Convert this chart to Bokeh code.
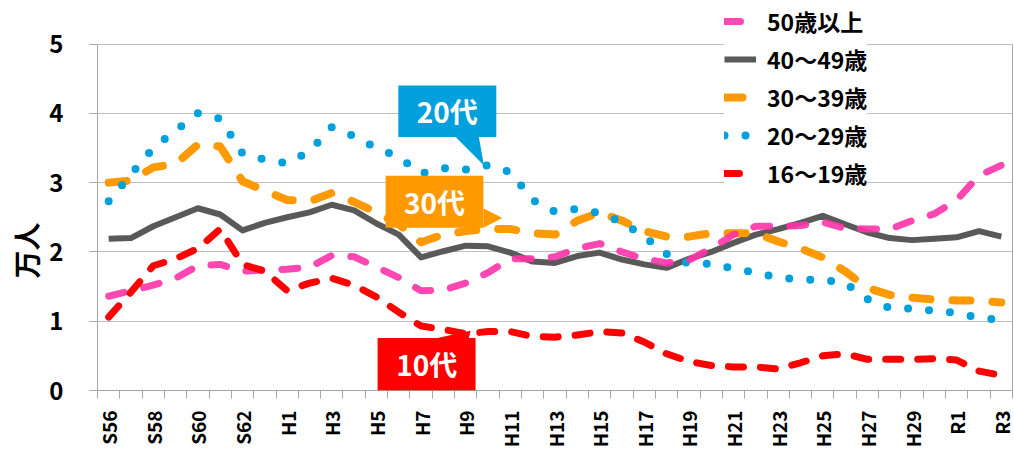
import math
from bokeh.plotting import figure
from bokeh.models import (Range1d, FixedTicker, CustomJSTickFormatter, Legend, LegendItem,
                          Label, BoxAnnotation, PolyAnnotation, LinearAxis, Title)
from bokeh.embed import file_html
from bokeh.resources import INLINE

# ---------------- data ----------------
years = ["S56", "S57", "S58", "S59", "S60", "S61", "S62", "S63",
         "H1", "H2", "H3", "H4", "H5", "H6", "H7", "H8", "H9", "H10",
         "H11", "H12", "H13", "H14", "H15", "H16", "H17", "H18", "H19", "H20",
         "H21", "H22", "H23", "H24", "H25", "H26", "H27", "H28", "H29", "H30",
         "R1", "R2", "R3"]

age50 = [1.36, 1.44, 1.52, 1.62, 1.80, 1.82, 1.72, 1.74, 1.75, 1.78, 1.95,
         1.93, 1.78, 1.63, 1.44, 1.45, 1.55, 1.70, 1.90, 1.90, 1.93,
         2.05, 2.12, 2.00, 1.90, 1.84, 1.88, 2.05, 2.25, 2.37, 2.37,
         2.38, 2.43, 2.34, 2.33, 2.33, 2.45, 2.55, 2.75, 3.10, 3.25]
age40 = [2.19, 2.20, 2.37, 2.50, 2.63, 2.54, 2.31, 2.42, 2.50, 2.57, 2.68,
         2.60, 2.41, 2.25, 1.92, 2.01, 2.09, 2.08, 1.99, 1.86, 1.84,
         1.94, 1.99, 1.89, 1.82, 1.77, 1.90, 2.00, 2.13, 2.25, 2.33,
         2.42, 2.52, 2.40, 2.28, 2.20, 2.17, 2.19, 2.21, 2.30, 2.22]
age30 = [3.00, 3.03, 3.22, 3.27, 3.55, 3.52, 3.02, 2.88, 2.75, 2.73, 2.85,
         2.72, 2.57, 2.40, 2.14, 2.25, 2.30, 2.33, 2.33, 2.27, 2.25,
         2.45, 2.57, 2.45, 2.30, 2.22, 2.22, 2.27, 2.27, 2.27, 2.15,
         2.05, 1.92, 1.72, 1.48, 1.38, 1.34, 1.31, 1.30, 1.30, 1.27]
age20 = [2.73, 3.12, 3.50, 3.75, 4.00, 3.92, 3.42, 3.33, 3.28, 3.45, 3.80,
         3.67, 3.50, 3.37, 3.13, 3.21, 3.19, 3.25, 3.15, 2.75, 2.58,
         2.62, 2.56, 2.43, 2.22, 1.97, 1.83, 1.83, 1.76, 1.70, 1.63,
         1.60, 1.60, 1.55, 1.32, 1.19, 1.18, 1.15, 1.12, 1.05, 1.02]
age16 = [1.06, 1.42, 1.80, 1.90, 2.05, 2.33, 1.82, 1.72, 1.44, 1.55, 1.62,
         1.52, 1.35, 1.13, 0.93, 0.88, 0.82, 0.85, 0.85, 0.78, 0.77,
         0.80, 0.85, 0.83, 0.70, 0.53, 0.42, 0.36, 0.34, 0.34, 0.31,
         0.40, 0.50, 0.53, 0.45, 0.45, 0.45, 0.46, 0.44, 0.28, 0.22]

labels_legend = ["50歳以上", "40～49歳", "30～39歳", "20～29歳", "16～19歳"]
y_ticks = [0, 1, 2, 3, 4, 5]

JP = "Noto Sans CJK JP"
AXIS_C = "#A6A6A6"
n = len(years)
x = [i + 0.5 for i in range(n)]

# frame reaches the top of the canvas so the legend (drawn above y=5) is not clipped;
# the visible plot box is limited to 0..5 with axis bounds.
p = figure(width=1014, height=450, x_range=Range1d(0, n), y_range=Range1d(0, 5.628),
           output_backend="svg", toolbar_location=None,
           min_border_left=97, min_border_top=0, min_border_right=2, min_border_bottom=58)
p.outline_line_color = None
p.background_fill_color = "white"
p.border_fill_color = "white"

# y axis
p.yaxis.bounds = (0, 5)
p.yaxis.ticker = FixedTicker(ticks=y_ticks)
p.yaxis.major_tick_out = 8
p.yaxis.major_tick_in = 0
p.yaxis.minor_tick_line_color = None
p.yaxis.major_tick_line_color = AXIS_C
p.yaxis.axis_line_color = AXIS_C
p.yaxis.major_label_text_font = JP
p.yaxis.major_label_text_font_style = "bold"
p.yaxis.major_label_text_font_size = "24px"
p.yaxis.major_label_text_color = "black"
p.yaxis.major_label_standoff = 26

# "万人" caption, placed lower than center like the source
p.add_layout(Title(text="万人", align="left", offset=112, standoff=2,
                   text_font=JP, text_font_style="bold", text_font_size="28px",
                   text_color="black"), "left")

# right border line of the plot box
right_axis = LinearAxis(bounds=(0, 5), ticker=FixedTicker(ticks=[]),
                        major_tick_out=0, major_tick_in=0, minor_tick_out=0, minor_tick_in=0,
                        major_label_text_font_size="0px", axis_line_color=AXIS_C)
p.add_layout(right_axis, "right")

# x axis
p.xaxis.ticker = FixedTicker(ticks=[i + 0.5 for i in range(0, n, 2)],
                             minor_ticks=list(range(n + 1)))
p.xaxis.formatter = CustomJSTickFormatter(args=dict(labels=years),
                                          code="return labels[Math.floor(tick)];")
p.xaxis.major_tick_out = 0
p.xaxis.major_tick_in = 0
p.xaxis.minor_tick_out = 8
p.xaxis.minor_tick_in = 0
p.xaxis.minor_tick_line_color = AXIS_C
p.xaxis.axis_line_color = AXIS_C
p.xaxis.major_label_orientation = math.pi / 2
p.xaxis.major_label_standoff = 12
p.xaxis.major_label_text_font = JP
p.xaxis.major_label_text_font_style = "bold"
p.xaxis.major_label_text_font_size = "19px"
p.xaxis.major_label_text_color = "black"

p.xgrid.visible = False
p.ygrid.grid_line_color = "#BFBFBF"
p.ygrid.grid_line_width = 1

# lines
r40 = p.line(x, age40, line_color="#595959", line_width=6, line_join="round")
r30 = p.line(x, age30, line_color="#FF9900", line_width=8, line_dash="18 22",
             line_cap="round", line_join="round")
r20 = p.line(x, age20, line_color="#00A0DC", line_width=8, line_dash="0 21",
             line_cap="round", line_join="round")
r50 = p.line(x, age50, line_color="#FF33AA", line_width=7, line_dash="16 20",
             line_cap="round", line_join="round", line_alpha=0.9)
r16 = p.line(x, age16, line_color="#FF0000", line_width=7, line_dash="15 17",
             line_cap="round", line_join="round")

# callouts
def callout(left, right, bottom, top, tri_x, tri_y, color, text, tx, ty):
    p.add_layout(BoxAnnotation(left=left, right=right, bottom=bottom, top=top,
                               fill_color=color, fill_alpha=1, line_alpha=0))
    p.add_layout(PolyAnnotation(xs=tri_x, ys=tri_y, fill_color=color, fill_alpha=1,
                                line_alpha=0))
    p.add_layout(Label(x=tx, y=ty, text=text, text_color="white", text_font=JP,
                       text_font_style="bold", text_font_size="28px",
                       text_align="center", text_baseline="middle"))

callout(13.48, 17.87, 3.66, 4.40, [16.05, 17.09, 17.31], [3.66, 3.66, 3.25],
        "#00A0DC", "20代", 15.67, 4.03)
callout(12.91, 17.29, 2.35, 3.10, [17.29, 18.14, 17.29], [2.63, 2.49, 2.35],
        "#FF9900", "30代", 15.10, 2.72)
callout(12.55, 16.94, 0.0, 0.757, [15.23, 16.64, 16.72], [0.757, 0.757, 0.862],
        "#FF0000", "10代", 14.75, 0.38)

# x-axis caption
p.add_layout(Label(x=-2.73, y=-0.553, text="年度", text_color="black", text_font=JP,
                   text_font_style="bold", text_font_size="24px",
                   text_align="center", text_baseline="middle"))

legend = Legend(items=[LegendItem(label=labels_legend[0], renderers=[r50]),
                       LegendItem(label=labels_legend[1], renderers=[r40]),
                       LegendItem(label=labels_legend[2], renderers=[r30]),
                       LegendItem(label=labels_legend[3], renderers=[r20]),
                       LegendItem(label=labels_legend[4], renderers=[r16])],
                location=(627, 200))
legend.label_text_font = JP
legend.label_text_font_style = "bold"
legend.label_text_font_size = "23px"
legend.label_text_color = "black"
legend.glyph_width = 32
legend.glyph_height = 20
legend.label_standoff = 11
legend.spacing = 4
legend.padding = 8
legend.border_line_color = None
legend.background_fill_color = "white"
legend.background_fill_alpha = 1
p.add_layout(legend)

open("out.html", "w").write(file_html(p, INLINE))
